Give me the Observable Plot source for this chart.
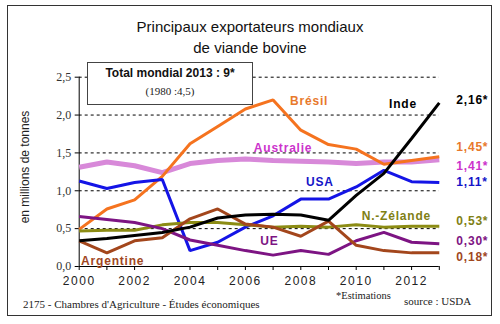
<!DOCTYPE html>
<html>
<head>
<meta charset="utf-8">
<script src="https://cdn.jsdelivr.net/npm/d3@7"></script>
<script src="https://cdn.jsdelivr.net/npm/@observablehq/plot@0.6"></script>
<style>
  html, body { margin: 0; padding: 0; background: #fff; }
  #wrap { position: relative; width: 500px; height: 324px; overflow: hidden; font-family: "Liberation Sans", Arial, sans-serif; }
  #wrap svg { position: absolute; left: 0; top: 0; }
  .abs { position: absolute; white-space: nowrap; }
  #frame { position: absolute; left: 7px; top: 5px; width: 485px; height: 311px; border: 1px solid #333; box-sizing: border-box; }
  #title { left: 0; width: 500px; top: 16px; text-align: center; font-size: 15px; line-height: 21px; color: #111; }
  #box { left: 87px; top: 62px; width: 166px; height: 43px; border: 1px solid #444; box-sizing: border-box; background: #fff; }
  #box .t1 { position: absolute; left: 0; width: 100%; top: 3px; text-align: center; font-weight: bold; font-size: 12px; color: #111; }
  #box .t2 { position: absolute; left: 0; width: 100%; top: 22px; text-align: center; font-family: "Liberation Serif", "Times New Roman", serif; font-size: 11px; color: #222; }
  #ylab { left: 25px; top: 167px; transform: translate(-50%, -50%) rotate(-90deg); font-size: 12px; color: #222; }
  .serif { font-family: "Liberation Serif", "Times New Roman", serif; color: #222; }
</style>
</head>
<body>
<div id="wrap">
  <div id="frame"></div>
  <div id="title" class="abs">Principaux exportateurs mondiaux<br>de viande bovine</div>
  <div id="ylab" class="abs">en millions de tonnes</div>
  <div id="foot" class="abs serif" style="left:23px; top:298px; font-size:11px;">2175 - Chambres d'Agriculture - Études économiques</div>
  <div id="est" class="abs serif" style="left:336px; top:290px; font-size:10.5px;">*Estimations</div>
  <div id="src" class="abs serif" style="left:404px; top:295px; font-size:11px;">source : USDA</div>
</div>
<script>
const years = [2000,2001,2002,2003,2004,2005,2006,2007,2008,2009,2010,2011,2012,2013];

const bresil    = [0.49,0.76,0.88,1.19,1.62,1.85,2.08,2.20,1.80,1.61,1.55,1.35,1.40,1.45];
const australie = [1.31,1.38,1.33,1.24,1.36,1.40,1.42,1.40,1.39,1.38,1.36,1.38,1.38,1.41];
const usa       = [1.13,1.03,1.11,1.15,0.21,0.32,0.52,0.67,0.89,0.89,1.05,1.27,1.12,1.11];
const inde      = [0.34,0.37,0.41,0.45,0.52,0.64,0.68,0.69,0.68,0.61,0.94,1.23,1.69,2.16];
const nzelande  = [0.47,0.48,0.48,0.55,0.58,0.58,0.55,0.52,0.53,0.52,0.55,0.52,0.53,0.53];
const ue        = [0.66,0.62,0.58,0.50,0.35,0.28,0.21,0.15,0.21,0.16,0.34,0.45,0.32,0.30];
const argentine = [0.34,0.18,0.34,0.38,0.63,0.76,0.56,0.52,0.40,0.60,0.28,0.21,0.18,0.18];

const seriesNames  = ["Brésil","Australie","USA","Inde","N.-Zélande","UE","Argentine"];
const seriesValues = [bresil, australie, usa, inde, nzelande, ue, argentine];
const lineColors   = ["#f5731f","#d889d9","#1414e6","#000000","#8c8c14","#7d1483","#a3461c"];
const labelColors  = ["#e8792b","#cc33cc","#1414c8","#000000","#808014","#7d1483","#a0461e"];
const lineWidths   = [3,5,3,3,3,3,3];

// series name labels (anchor in data space)
const nameLabelX = [2008.3,2007.36,2008.69,2011.69,2011.45,2006.87,2001.21];
const nameLabelY = [2.19,1.566,1.11,2.14,0.66,0.334,0.07];

// end-of-line value labels
const endLabels  = ["1,45*","1,41*","1,11*","2,16*","0,53*","0,30*","0,18*"];
const endLabelY  = [1.57,1.32,1.12,2.20,0.60,0.33,0.12];

const yTicks = [0,0.5,1,1.5,2,2.5];
const gridTicks = [0.5,1,1.5,2,2.5];
const xLabelYears = [2000,2002,2004,2006,2008,2010,2012];

const rows = [];
seriesNames.forEach((s,i) => years.forEach((y,j) => rows.push({serie:s, year:y, value:seriesValues[i][j]})));
const nameRows = seriesNames.map((s,i) => ({serie:s, x:nameLabelX[i], y:nameLabelY[i], color:labelColors[i]}));
const endRows = seriesNames.map((s,i) => ({label:endLabels[i], x:2013, y:endLabelY[i], color:labelColors[i]}));

const lineMarks = seriesNames.map((s,i) => Plot.line(rows.filter(r => r.serie === s), {
  x:"year", y:"value", stroke: lineColors[i], strokeWidth: lineWidths[i], strokeLinejoin:"miter", strokeLinecap:"butt"
}));
// draw Australia first (underneath) then others
const order = [1,0,2,4,5,6,3];

const svg = Plot.plot({
  width: 500,
  height: 324,
  marginLeft: 78.7,
  marginRight: 61.2,
  marginTop: 76.7,
  marginBottom: 58,
  style: {fontFamily: "'Liberation Sans', Arial, sans-serif", background: "transparent", overflow: "visible"},
  x: {domain: [2000, 2013]},
  y: {domain: [0, 2.5]},
  marks: [
    Plot.ruleY(gridTicks, {x1: 2000, x2: 2013, stroke: "#000", strokeDasharray: "3,3", strokeWidth: 1}),
    Plot.axisY({ticks: yTicks, tickFormat: d => d.toFixed(1).replace(".", ","), tickSize: 4, tickPadding: 4,
      fontFamily: "'Liberation Serif', 'Times New Roman', serif", fontSize: 12, fill: "#333", label: null}),
    Plot.axisX({ticks: years, tickSize: 4, tickFormat: d => xLabelYears.includes(d) ? String(d) : "", tickPadding: 6,
      fontSize: 12, fill: "#222", label: null}),
    Plot.ruleX([2000], {y1: 0, y2: 2.5, stroke: "#000"}),
    Plot.ruleY([0], {x1: 2000, x2: 2013, stroke: "#000"}),
    ...order.map(i => lineMarks[i]),
    Plot.text(nameRows, {x:"x", y:"y", text:"serie", fill: d => d.color, fontWeight:"bold", fontSize: 12, textAnchor:"middle"}),
    Plot.text(endRows, {x:"x", y:"y", text:"label", fill: d => d.color, fontWeight:"bold", fontSize: 12, textAnchor:"start", dx: 17})
  ]
});
svg.querySelectorAll("g[aria-label='x-axis tick label'] text").forEach(t => t.setAttribute("letter-spacing", "1.5"));
svg.querySelectorAll("g[aria-label='text'] text").forEach(t => t.setAttribute("letter-spacing", "0.8"));
document.getElementById("wrap").appendChild(svg);

// annotation box on top
const box = document.createElement("div");
box.id = "box"; box.className = "abs";
box.innerHTML = '<div class="t1">Total mondial 2013 : 9*</div><div class="t2">(1980 :4,5)</div>';
document.getElementById("wrap").appendChild(box);
</script>
</body>
</html>
